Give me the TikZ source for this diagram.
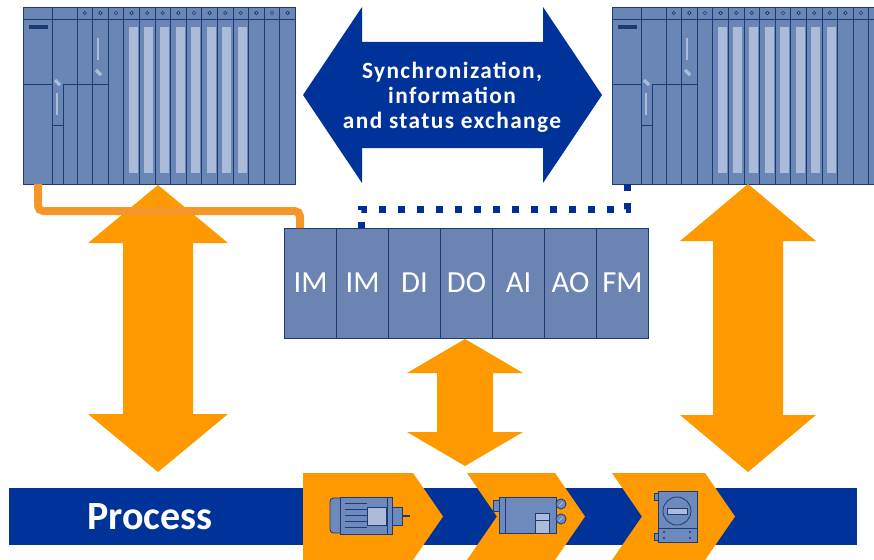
\documentclass[tikz,border=0pt]{standalone}
\usepackage{fontspec}
\setmainfont{Carlito}
\newfontfamily\bannerfont[LetterSpace=6]{Carlito}
\usetikzlibrary{positioning}

\definecolor{siorange}{RGB}{255,153,0}
\definecolor{linkorange}{RGB}{247,150,40}
\definecolor{siblue}{RGB}{0,51,153}
\definecolor{linkblue}{RGB}{0,45,150}
\definecolor{rackblue}{RGB}{106,134,180}
\definecolor{racknavy}{RGB}{28,58,118}
\definecolor{rackbar}{RGB}{172,188,216}
\definecolor{modblue}{RGB}{108,132,178}
\definecolor{iconblue}{RGB}{110,138,188}

\tikzset{
  rackedge/.style={draw=racknavy,line width=0.6pt},
  module/.style={draw=racknavy,fill=modblue,text=white,line width=0.6pt,
    minimum width=39pt,minimum height=82.5pt,inner sep=0pt,outer sep=0pt,
    font=\fontsize{23}{23}\selectfont},
  banner/.style={text=white,align=center,
    font=\bannerfont\bfseries\fontsize{17.5}{18.75}\selectfont},
  icon/.style={draw=racknavy,fill=iconblue,line width=0.6pt},
  orangelink/.style={draw=linkorange,line width=6pt,rounded corners=4pt},
  dotlink/.style={draw=linkblue,line width=5.25pt,dash pattern=on 5.25pt off 9pt}
}

% S7 rack, left copy at its own place, shift for the other one
\newcommand{\plcrack}{%
  \fill[rackblue] (23,7) rectangle (295,184);
  \foreach \i in {3,...,10}
    \fill[rackbar] ({77+\i*15.6+5},27) rectangle ({77+\i*15.6+14},173);
  \fill[racknavy] (29,25) rectangle (48,29);
  \draw[rackedge] (23,7) rectangle (295,184) (23,19) -- (295,19)
    (52,7) -- (52,184) (63,84) -- (63,184)
    (23,84) -- (52,84) (63,84) -- (108,84) (52,125) -- (63,125);
  \foreach \i in {0,...,13} {
    \draw[rackedge] ({77+\i*15.6},7) -- ({77+\i*15.6},184);
    \draw[rackedge,fill=rackbar] ({84.8+\i*15.6},13) circle[radius=1.2pt];
  }
  \draw[rackbar,line width=0.8pt] (57,93) -- (57,115) (98,38) -- (98,60);
  \draw[rackbar,line width=2.5pt] (55,80) -- (60,85) (96,70) -- (101,75);
}

% vertical double arrow: x, top, bottom, shaft half, head half, head length
\newcommand{\ioarrow}[6]{%
  \fill[siorange] (#1,#2) -- ({#1+#5},{#2+#6}) -- ({#1+#4},{#2+#6})
    -- ({#1+#4},{#3-#6}) -- ({#1+#5},{#3-#6}) -- (#1,#3)
    -- ({#1-#5},{#3-#6}) -- ({#1-#4},{#3-#6}) -- ({#1-#4},{#2+#6})
    -- ({#1-#5},{#2+#6}) -- cycle;}

\begin{document}
\begin{tikzpicture}[x=0.75pt,y=-0.75pt]
  \useasboundingbox (0,0) rectangle (874,560);
  \clip (0,0) rectangle (874,560);

  % the two racks
  \plcrack
  \begin{scope}[shift={(589,0)}]
    \plcrack
  \end{scope}
  \coordinate (rackL) at (38,184);
  \coordinate (rackR) at (627,184);

  % exchange between the CPUs
  \fill[siblue] (303,95) -- (362,7) -- (362,42) -- (543,42) -- (543,7)
    -- (602,95) -- (543,183) -- (543,148) -- (362,148) -- (362,183) -- cycle;
  \node[banner] (sync) at (452,97.5) {Synchronization,\\information\\and status exchange};

  % process band
  \fill[siblue] (9,488) rectangle (857,545);
  \node[text=white,font=\bfseries\fontsize{30}{30}\selectfont] (proc) at (150,517) {Process};

  \fill[siorange] (303,473) -- (413,473) -- (443,516.5) -- (413,560) -- (303,560) -- cycle;
  \fill[siorange] (467,473) -- (555,473) -- (585,516.5) -- (555,560) -- (467,560) -- (497,516.5) -- cycle;
  \fill[siorange] (612,473) -- (705,473) -- (735,516.5) -- (705,560) -- (612,560) -- (642,516.5) -- cycle;

  % motor
  \draw[icon,rounded corners=2.5pt] (330,498) rectangle (346,533);
  \draw[icon] (340,497) rectangle (392,534);
  \draw[racknavy,line width=0.5pt] \foreach \y in {503,509,515,521,527} {(345,\y) -- (367,\y)};
  \draw[icon,fill=rackbar] (367,507) rectangle (386,525);
  \draw[racknavy,line width=0.6pt] (387,497) -- (387,534);
  \draw[icon] (392,507) rectangle (402,525);
  \draw[racknavy,line width=1pt] (402,516) -- (410,516);

  % positioner
  \draw[icon] (493,500) rectangle (499,511);
  \draw[icon] (499,497) rectangle (556,533);
  \draw[racknavy,line width=0.6pt] (505,497) -- (505,533);
  \draw[icon,fill=rackbar] (535,513) rectangle (549,533);
  \draw[racknavy,line width=0.6pt] (535,520) -- (549,520);
  \draw[icon] (561,504) circle[radius=3.8pt] (561,519) circle[radius=3.8pt];
  \draw[rackbar,line width=0.6pt] (559,506) -- (563,502) (559,521) -- (563,517);

  % transmitter
  \draw[icon] (654,493) rectangle (658,500) (654,533) rectangle (658,540);
  \draw[icon] (658,491) rectangle (697,542);
  \draw[icon] (658,528) rectangle (697,542);
  \draw[icon] (677,511) circle[radius=10.5pt];
  \draw[icon,fill=rackbar] (667,508) rectangle (687,514);
  \fill[racknavy] \foreach \p in {(664,532),(690,532),(664,538),(690,538)} {\p circle[radius=0.8pt]};

  % field access arrows
  \ioarrow{158}{185}{472}{35}{70}{58}
  \ioarrow{465}{339}{466}{28}{58}{34}
  \ioarrow{748}{184}{472}{35}{68}{57}

  % ET 200 station
  \node[module] (im1) at (310.5,283) {IM};
  \node[module,right=0pt of im1] (im2) {IM};
  \node[module,right=0pt of im2] (di) {DI};
  \node[module,right=0pt of di] (do) {DO};
  \node[module,right=0pt of do] (ai) {AI};
  \node[module,right=0pt of ai] (ao) {AO};
  \node[module,right=0pt of ao] (fm) {FM};

  % PROFIBUS links
  \coordinate (turnL) at (300,211);
  \coordinate (turnR) at (361,209);
  \draw[orangelink] (rackL) |- (turnL) -- (turnL |- im1.north);
  \draw[dotlink] (rackR) |- (turnR) -- (turnR |- im2.north);
\end{tikzpicture}
\end{document}
